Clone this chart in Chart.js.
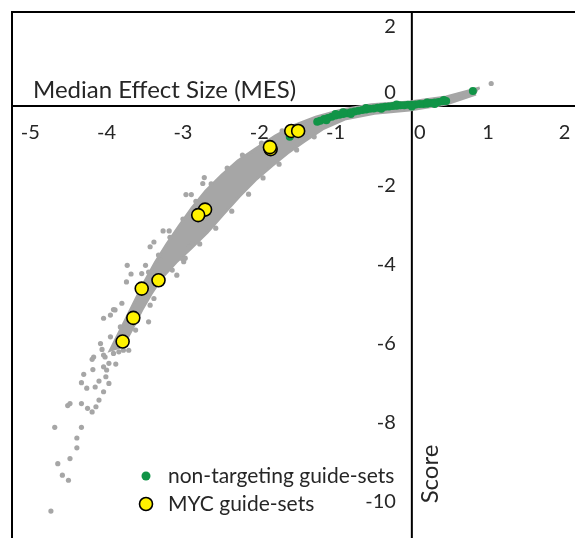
<!DOCTYPE html>
<html>
<head>
<meta charset="utf-8">
<script src="https://cdn.jsdelivr.net/npm/chart.js@4.4.1/dist/chart.umd.min.js"></script>
<style>
html, body { margin: 0; padding: 0; background: #fff; overflow: hidden; }
#wrap { position: absolute; left: 0; top: 0; }
</style>
</head>
<body>
<div id="wrap"><canvas id="chart" width="640" height="600"></canvas></div>
<script>
// ticks and texts
const xTicks = [-5, -4, -3, -2, -1, 0, 1, 2];
const yTicks = [2, 0, -2, -4, -6, -8, -10];
const xTitle = 'Median Effect Size (MES)';
const yTitle = 'Score';
const legendLabels = ['non-targeting guide-sets', 'MYC guide-sets'];

// MYC guide-sets (yellow)
const mycPoints = [
    [-1.58, -0.63], [-1.49, -0.63], [-1.85, -1.09], [-1.86, -1.04],
    [-2.71, -2.62], [-2.80, -2.76], [-3.32, -4.41], [-3.54, -4.62],
    [-3.65, -5.36], [-3.79, -5.96]
];

// non-targeting guide-sets (green)
const nonTargetingPoints = [
    [-1.24, -0.40], [-1.20, -0.37], [-1.15, -0.33], [-1.10, -0.30], [-1.05, -0.27],
    [-1.00, -0.24], [-0.95, -0.22], [-0.90, -0.20], [-0.85, -0.18], [-0.80, -0.16],
    [-0.75, -0.14], [-0.70, -0.12], [-0.65, -0.10], [-0.60, -0.09], [-0.55, -0.07],
    [-0.50, -0.06], [-0.45, -0.04], [-0.40, -0.03], [-0.35, -0.02], [-0.30, -0.01],
    [-0.25, 0.00], [-0.20, 0.01], [-0.15, 0.02], [-0.10, 0.02], [-0.05, 0.03],
    [0.00, 0.03], [0.05, 0.04], [0.10, 0.05], [0.15, 0.05], [0.20, 0.06],
    [0.25, 0.08], [0.30, 0.09], [0.35, 0.10], [0.40, 0.12], [0.45, 0.13],
    [-1.00, -0.20], [-0.80, -0.20], [-0.60, -0.05], [-0.40, -0.07], [-0.20, 0.04],
    [0.00, -0.01], [0.20, 0.09], [0.30, 0.05], [0.42, 0.15], [-0.90, -0.16],
    [-1.12, -0.36], [0.80, 0.38], [-1.60, -0.78]
];

// all other guide-sets, scattered ones (grey)
const otherPoints = [
    [-2.72, -1.81], [-2.74, -1.96], [-2.96, -2.24], [-2.89, -2.24], [-3.26, -3.16],
    [-3.18, -3.16], [-3.38, -3.44], [-3.43, -3.56], [-3.01, -3.86], [-2.88, -3.48],
    [-2.79, -3.01], [-2.99, -3.94], [-3.14, -4.15], [-3.73, -4.03], [-3.68, -4.25],
    [-3.74, -4.45], [-3.49, -4.03], [-3.54, -4.24], [-3.89, -5.16], [-3.95, -5.29],
    [-4.04, -5.37], [-3.45, -5.46], [-3.43, -5.04], [-3.38, -4.87], [-3.08, -4.28],
    [-3.29, -3.90], [-3.80, -4.99], [-3.82, -5.59], [-3.62, -5.67], [-3.95, -5.84],
    [-3.86, -5.92], [-3.91, -5.15], [-4.08, -6.01], [-4.06, -6.16], [-4.17, -6.35],
    [-4.19, -6.41], [-4.02, -6.35], [-3.97, -6.51], [-4.04, -6.60], [-4.00, -6.68],
    [-3.88, -6.53], [-3.91, -6.26], [-3.84, -6.22], [-3.78, -6.18], [-4.18, -6.67],
    [-4.30, -6.79], [-4.33, -7.00], [-4.26, -7.14], [-4.15, -7.11], [-4.10, -6.96],
    [-3.97, -7.02], [-4.04, -7.23], [-4.01, -6.85], [-4.48, -7.53], [-4.51, -7.58],
    [-4.33, -7.53], [-4.25, -7.65], [-4.19, -7.74], [-4.14, -7.61], [-4.10, -7.44],
    [-4.68, -8.13], [-4.33, -8.13], [-4.39, -8.40], [-4.39, -8.65], [-4.48, -8.92],
    [-4.64, -9.05], [-4.58, -9.34], [-4.50, -9.47], [-4.73, -10.25], [-3.71, -6.18],
    [-2.92, -3.56], [-4.04, -6.30],
    [-1.95, -1.82], [-2.14, -2.23], [-2.36, -2.66], [-2.57, -3.09], [-2.78, -3.49],
    [-2.97, -3.85], [-1.74, -1.47], [-1.51, -1.11], [-1.28, -0.78],
    [-2.22, -1.24], [-2.42, -1.57], [-2.63, -1.97], [-2.83, -2.41], [-3.00, -2.86],
    [-3.17, -3.32], [-3.32, -3.77], [-3.45, -4.20], [-1.97, -0.94], [-1.70, -0.63],
    [1.04, 0.57]
];

// outline of the solid grey core, where the dots overlap
const denseBand = [
    [0.89, 0.46], [0.45, 0.23], [-0.03, 0.10], [-0.53, 0.03], [-0.92, -0.10],
    [-1.26, -0.28], [-1.53, -0.48], [-1.79, -0.76], [-2.05, -1.09], [-2.28, -1.39],
    [-2.49, -1.75], [-2.70, -2.15], [-2.88, -2.58], [-3.05, -3.04], [-3.21, -3.49],
    [-3.36, -3.95], [-3.49, -4.41], [-3.61, -4.86], [-3.74, -5.37], [-3.87, -5.87],
    [-3.95, -6.18],
    [-3.79, -6.08], [-3.66, -5.62], [-3.54, -5.16], [-3.42, -4.76], [-3.28, -4.35],
    [-3.09, -3.95], [-2.89, -3.59], [-2.68, -3.19], [-2.47, -2.73], [-2.26, -2.28],
    [-2.05, -1.87], [-1.84, -1.52], [-1.63, -1.19], [-1.41, -0.89], [-1.17, -0.58],
    [-0.88, -0.33], [-0.49, -0.18], [-0.03, -0.10], [0.45, 0.05], [0.84, 0.30]
];

const toXY = arr => arr.map(p => ({ x: p[0], y: p[1] }));

const GREY = '#a6a6a6';
const GREEN = '#119447';
const YELLOW = '#fff200';
const TEXT = '#262626';
const FONT = 'Lato, "Open Sans", sans-serif';

// axes through the origin, ticks, titles and legend
const crossAxes = {
    id: 'crossAxes',
    beforeDatasetsDraw(chart) {
        const ctx = chart.ctx;
        const a = chart.chartArea;
        const x0 = chart.scales.x.getPixelForValue(0);
        const y0 = chart.scales.y.getPixelForValue(0);
        ctx.save();
        ctx.strokeStyle = '#000';
        ctx.lineWidth = 2;
        ctx.strokeRect(a.left, a.top, a.right - a.left + 5, a.bottom - a.top + 5);
        ctx.beginPath();
        ctx.moveTo(x0, a.top);
        ctx.lineTo(x0, a.bottom);
        ctx.moveTo(a.left, y0);
        ctx.lineTo(a.right, y0);
        ctx.stroke();
        ctx.restore();
    },
    afterDatasetsDraw(chart) {
        const ctx = chart.ctx;
        const sx = chart.scales.x;
        const sy = chart.scales.y;
        const x0 = sx.getPixelForValue(0);
        const y0 = sy.getPixelForValue(0);
        ctx.save();
        ctx.fillStyle = TEXT;
        ctx.textBaseline = 'middle';

        // x tick labels under the axis
        ctx.font = '20px ' + FONT;
        ctx.textAlign = 'center';
        xTicks.forEach(v => {
            const px = sx.getPixelForValue(v) + (v === 0 ? 8 : 0);
            ctx.fillText(String(v), px, y0 + 26);
        });

        // y tick labels left of the axis
        ctx.textAlign = 'right';
        yTicks.forEach(v => {
            const py = sy.getPixelForValue(v) + (v === 0 ? -14 : 0);
            ctx.fillText(String(v), x0 - 16, py);
        });

        // axis titles
        ctx.font = '24px ' + FONT;
        ctx.textAlign = 'left';
        ctx.fillText(xTitle, 33, y0 - 16);

        ctx.save();
        ctx.translate(x0 + 18, 474);
        ctx.rotate(-Math.PI / 2);
        ctx.textAlign = 'center';
        ctx.fillText(yTitle, 0, 0);
        ctx.restore();

        // legend
        ctx.beginPath();
        ctx.arc(146, 476, 4.5, 0, Math.PI * 2);
        ctx.fillStyle = GREEN;
        ctx.fill();
        ctx.beginPath();
        ctx.arc(146, 504, 6.5, 0, Math.PI * 2);
        ctx.fillStyle = YELLOW;
        ctx.fill();
        ctx.lineWidth = 1.6;
        ctx.strokeStyle = '#000';
        ctx.stroke();

        ctx.fillStyle = TEXT;
        ctx.font = '21px ' + FONT;
        ctx.textAlign = 'left';
        ctx.fillText(legendLabels[0], 168, 476);
        ctx.fillText(legendLabels[1], 168, 504);
        ctx.restore();
    }
};

new Chart(document.getElementById('chart'), {
    type: 'scatter',
    data: {
        datasets: [
            {
                label: legendLabels[1],
                data: toXY(mycPoints),
                backgroundColor: YELLOW,
                borderColor: '#000',
                borderWidth: 1.6,
                pointRadius: 6.5
            },
            {
                label: legendLabels[0],
                data: toXY(nonTargetingPoints),
                backgroundColor: GREEN,
                borderWidth: 0,
                pointRadius: 4
            },
            {
                label: 'other',
                data: toXY(otherPoints),
                backgroundColor: GREY,
                borderWidth: 0,
                pointRadius: 2.6
            },
            {
                label: 'dense',
                data: toXY(denseBand),
                showLine: true,
                fill: 'shape',
                backgroundColor: GREY,
                borderColor: GREY,
                borderWidth: 3,
                pointRadius: 0,
                tension: 0
            }
        ]
    },
    options: {
        responsive: false,
        animation: false,
        layout: { autoPadding: false, padding: { left: 12, top: 12, right: 0, bottom: 0 } },
        plugins: {
            legend: { display: false },
            tooltip: { enabled: false }
        },
        scales: {
            x: { type: 'linear', min: -5.24, max: 2.99, display: false },
            y: { type: 'linear', min: -12.5, max: 2.38, display: false }
        }
    },
    plugins: [crossAxes]
});
</script>
</body>
</html>
